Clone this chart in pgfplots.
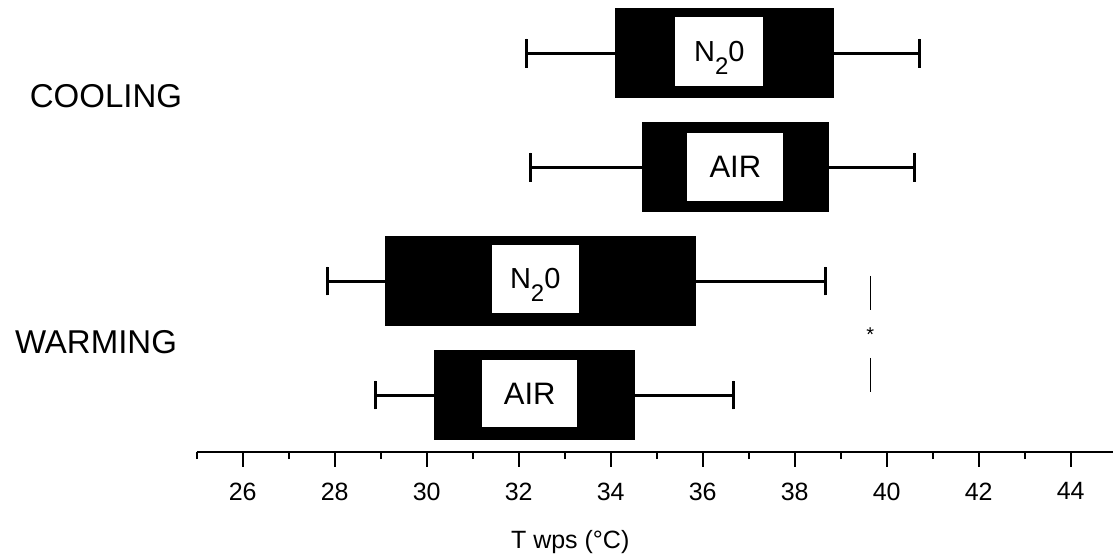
\documentclass[border=0pt]{standalone}
\usepackage{fontspec}
\setmainfont{Liberation Sans}
\usepackage{pgfplots}
\pgfplotsset{compat=1.18}
\usepgfplotslibrary{statistics}

\newcommand{\Ntwo}{N\smash{\raisebox{-6.5pt}{\fontsize{12}{12}\selectfont 2}}0}

\begin{document}
\begin{tikzpicture}
\path[use as bounding box] (0pt,0pt) rectangle (556.5pt,-280pt);
\begin{axis}[
  at={(98.35pt,-226pt)}, anchor=south west,
  scale only axis, width=460pt, height=225.7pt,
  xmin=25, xmax=45, ymin=0.5, ymax=4.46,
  axis x line=bottom, axis y line=none,
  x axis line style={-, line width=1.1pt},
  xtick={26,28,...,44}, minor xtick={25,27,...,45},
  tick align=outside,
  major tick length=7.3pt, minor tick length=3.6pt,
  every tick/.style={black, line width=1.2pt},
  tick label style={font=\fontsize{12.5}{14}\selectfont},
  xticklabel style={yshift=-4.5pt},
  /pgf/number format/assume math mode=true,
  xlabel={T wps (°C)},
  every axis x label/.style={at={(rel axis cs:0.406,0)}, anchor=center,
    yshift=-45pt, font=\fontsize{12.5}{14}\selectfont},
  boxplot/draw direction=x,
  boxplot/every whisker/.style={line width=1.5pt},
  boxplot/every box/.style={line width=0.8pt},
  clip=false,
]
% COOLING N2O
\addplot[draw=black, fill=black, solid, mark=none,
  boxplot prepared={lower whisker=32.16, lower quartile=34.10, median=36.47,
    upper quartile=38.84, upper whisker=40.71, draw position=4,
    box extend=0.77, whisker extend=0.254}] coordinates {};
% COOLING AIR
\addplot[draw=black, fill=black, solid, mark=none,
  boxplot prepared={lower whisker=32.25, lower quartile=34.70, median=36.72,
    upper quartile=38.73, upper whisker=40.60, draw position=3,
    box extend=0.77, whisker extend=0.254}] coordinates {};
% WARMING N2O
\addplot[draw=black, fill=black, solid, mark=none,
  boxplot prepared={lower whisker=27.84, lower quartile=29.10, median=32.47,
    upper quartile=35.84, upper whisker=38.68, draw position=2,
    box extend=0.77, whisker extend=0.254}] coordinates {};
% WARMING AIR
\addplot[draw=black, fill=black, solid, mark=none,
  boxplot prepared={lower whisker=28.88, lower quartile=30.18, median=32.35,
    upper quartile=34.51, upper whisker=36.68, draw position=1,
    box extend=0.77, whisker extend=0.254}] coordinates {};

% labels in boxes
\node[fill=white, inner sep=0pt, minimum width=44pt, minimum height=34.5pt,
  font=\fontsize{14.5}{18}\selectfont] at (axis cs:36.36,4.01) {\Ntwo};
\node[fill=white, inner sep=0pt, minimum width=48pt, minimum height=34pt,
  font=\fontsize{15.5}{18}\selectfont] at (axis cs:36.71,3.00) {AIR};
\node[fill=white, inner sep=0pt, minimum width=43.75pt, minimum height=34pt,
  font=\fontsize{14.5}{18}\selectfont] at (axis cs:32.36,2.02) {\Ntwo};
\node[fill=white, inner sep=0pt, minimum width=47.5pt, minimum height=33.5pt,
  font=\fontsize{15.5}{18}\selectfont] at (axis cs:32.24,1.01) {AIR};

% significance marker
\addplot[black, line width=0.6pt, mark=none] coordinates {(39.64,2.044) (39.64,1.746)};
\addplot[black, line width=0.6pt, mark=none] coordinates {(39.64,1.325) (39.64,1.026)};
\node[font=\fontsize{10}{12}\selectfont] at (axis cs:39.64,1.53) {*};
\end{axis}
\node[font=\fontsize{16.5}{18}\selectfont] at (53pt,-48pt) {COOLING};
\node[font=\fontsize{16.5}{18}\selectfont] at (48pt,-171pt) {WARMING};
\end{tikzpicture}
\end{document}
